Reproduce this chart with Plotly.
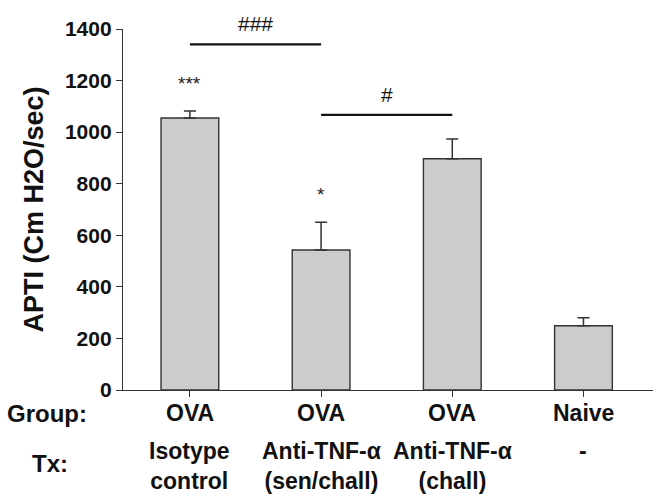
import plotly.graph_objects as go

# 数据
groups = ["OVA", "OVA", "OVA", "Naive"]
treatments = ["Isotype<br>control", "Anti-TNF-α<br>(sen/chall)", "Anti-TNF-α<br>(chall)", "-"]
apti = [1055, 543, 897, 249]
apti_err = [27, 108, 76, 31]
stars = ["***", "*", "", ""]

# 组间比较: (左组, 右组, 线高度, 标记)
comparisons = [(0, 1, 1340, "###"), (1, 2, 1067, "#")]

font_family = "Liberation Sans, Arial, sans-serif"
x = list(range(len(apti)))

fig = go.Figure()

fig.add_trace(go.Bar(
    x=x,
    y=apti,
    width=0.44,
    marker=dict(color="#cccccc", line=dict(color="#333333", width=1.4)),
    error_y=dict(type="data", array=apti_err, arrayminus=[0] * len(apti),
                 color="#333333", thickness=1.5, width=6),
    showlegend=False,
    hoverinfo="skip",
))

# 显著性星号
for i, s in enumerate(stars):
    if s:
        fig.add_annotation(x=i, y=apti[i] + apti_err[i] + 60, text=s, showarrow=False,
                           font=dict(size=19, color="#222222", family=font_family),
                           yanchor="bottom")

# 比较线和 # 标记
for a, b, h, label in comparisons:
    fig.add_shape(type="line", x0=a, x1=b, y0=h, y1=h,
                  line=dict(color="#111111", width=2.2), xref="x", yref="y")
    fig.add_annotation(x=(a + b) / 2, y=h + 28, text=label, showarrow=False,
                       font=dict(size=21, color="#111111", family=font_family),
                       yanchor="bottom")

# 底部分组标签
lab_font = dict(size=23, color="#111111", family=font_family)
for i in x:
    fig.add_annotation(x=i, y=-0.065, yref="paper", text="<b>%s</b>" % groups[i],
                       showarrow=False, yanchor="middle", font=lab_font)
    fig.add_annotation(x=i, y=-0.128, yref="paper", text="<b>%s</b>" % treatments[i],
                       showarrow=False, yanchor="top", font=lab_font)

fig.add_annotation(x=0, xref="paper", y=-0.065, yref="paper", text="<b>Group:</b>",
                   showarrow=False, xanchor="left", xshift=-118, yanchor="middle",
                   font=dict(size=24, color="#111111", family=font_family))
fig.add_annotation(x=0, xref="paper", y=-0.16, yref="paper", text="<b>Tx:</b>",
                   showarrow=False, xanchor="left", xshift=-93, yanchor="top",
                   font=dict(size=24, color="#111111", family=font_family))

fig.update_layout(
    width=664,
    height=502,
    margin=dict(l=123, r=11, t=29, b=112),
    plot_bgcolor="white",
    paper_bgcolor="white",
    font=dict(family=font_family, color="#111111"),
)
fig.update_xaxes(
    range=[-0.51, 3.53],
    tickvals=x,
    showticklabels=False,
    ticks="outside",
    ticklen=6,
    tickcolor="#333333",
    showline=True,
    linecolor="#333333",
    linewidth=1.4,
    showgrid=False,
    zeroline=False,
)
fig.update_yaxes(
    range=[0, 1400],
    dtick=200,
    ticks="outside",
    ticklen=6,
    tickcolor="#333333",
    showline=True,
    linecolor="#333333",
    linewidth=1.4,
    showgrid=False,
    zeroline=False,
    tickfont=dict(size=21, family=font_family, weight="bold"),
    title=dict(text="<b>APTI (Cm H2O/sec)</b>", font=dict(size=27, family=font_family), standoff=13),
)

fig.write_html("out.html", config={"displayModeBar": False},
               post_script="document.body.style.margin='0px';")
